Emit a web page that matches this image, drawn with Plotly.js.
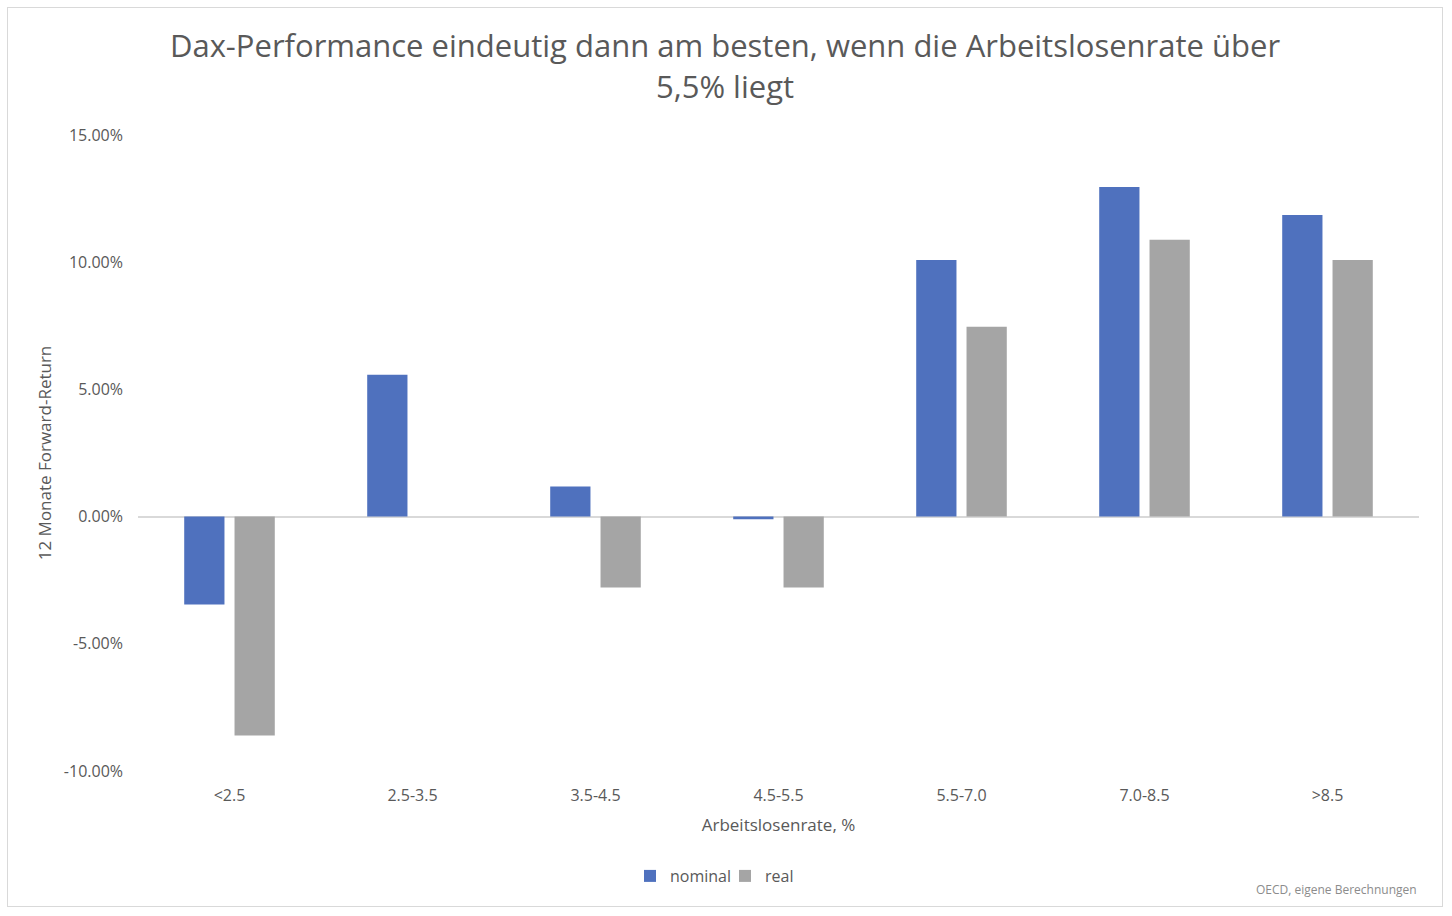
<!DOCTYPE html>
<html>
<head>
<meta charset="utf-8">
<script src="https://cdn.plot.ly/plotly-3.0.1.min.js"></script>
<style>
  body { margin: 0; background: #fff; }
  #frame { position: absolute; left: 7px; top: 7px; width: 1434px; height: 898px; border: 1px solid #d9d9d9; }
  #chart { width: 1434px; height: 898px; }
</style>
</head>
<body>
<div id="frame"><div id="chart"></div></div>
<script>
// Arbeitslosenrate-Klassen und 12M Forward-Returns (in %)
var categories = ['<2.5', '2.5-3.5', '3.5-4.5', '4.5-5.5', '5.5-7.0', '7.0-8.5', '>8.5'];
var nominal = [-3.46, 5.58, 1.18, -0.10, 10.09, 12.96, 11.86];
var real = [-8.6, 0, -2.79, -2.79, 7.46, 10.88, 10.09];
var yTicks = [-10, -5, 0, 5, 10, 15];
var yTickLabels = ['-10.00%', '-5.00%', '0.00%', '5.00%', '10.00%', '15.00%'];

var fontFam = '"Open Sans", sans-serif';
var txt = '#595959';

var trace1 = {
    x: categories,
    y: nominal,
    name: 'nominal',
    type: 'bar',
    marker: { color: '#4f71be' },
    hoverinfo: 'x+y'
};

var trace2 = {
    x: categories,
    y: real,
    name: 'real',
    type: 'bar',
    marker: { color: '#a5a5a5' },
    hoverinfo: 'x+y'
};

var layout = {
    width: 1434,
    height: 898,
    margin: { l: 130, r: 23, t: 127, b: 135, autoexpand: false },
    paper_bgcolor: '#fff',
    plot_bgcolor: '#fff',
    font: { family: fontFam, color: txt, size: 15 },
    title: {
        text: 'Dax-Performance eindeutig dann am besten, wenn die Arbeitslosenrate über<br>5,5% liegt',
        font: { family: fontFam, size: 31, color: txt },
        x: 0.5, xanchor: 'center',
        yref: 'container',
        y: 0.945, yanchor: 'middle'
    },
    barmode: 'group',
    bargap: 0.45,
    bargroupgap: 0.2,
    xaxis: {
        type: 'category',
        showgrid: false,
        showline: false,
        ticks: '',
        tickfont: { size: 16, color: txt },
        ticklabelstandoff: 13,
        automargin: false,
        title: { text: 'Arbeitslosenrate, %', font: { size: 17, color: txt }, standoff: 14 }
    },
    yaxis: {
        range: [-10, 15],
        tickvals: yTicks,
        ticktext: yTickLabels,
        showgrid: false,
        zeroline: true,
        zerolinecolor: '#d9d9d9',
        zerolinewidth: 2,
        showline: false,
        ticks: '',
        tickfont: { size: 16, color: txt },
        ticklabelstandoff: 14,
        automargin: false,
        title: { text: '12 Monate Forward-Return', font: { size: 17, color: txt }, standoff: 7 }
    },
    showlegend: true,
    legend: {
        orientation: 'h',
        xref: 'container',
        x: 0.5, xanchor: 'center',
        yref: 'container',
        y: 0.0334, yanchor: 'middle',
        font: { size: 16, color: txt },
        itemwidth: 30,
        entrywidth: 50,
        traceorder: 'normal'
    },
    annotations: [{
        text: 'OECD, eigene Berechnungen',
        xref: 'paper', yref: 'paper',
        x: 1.0, y: -0.187,
        xanchor: 'right', yanchor: 'middle',
        showarrow: false,
        font: { size: 12, color: '#8c8c8c' }
    }]
};

Plotly.newPlot('chart', [trace1, trace2], layout, { displayModeBar: false, responsive: false });
</script>
</body>
</html>
